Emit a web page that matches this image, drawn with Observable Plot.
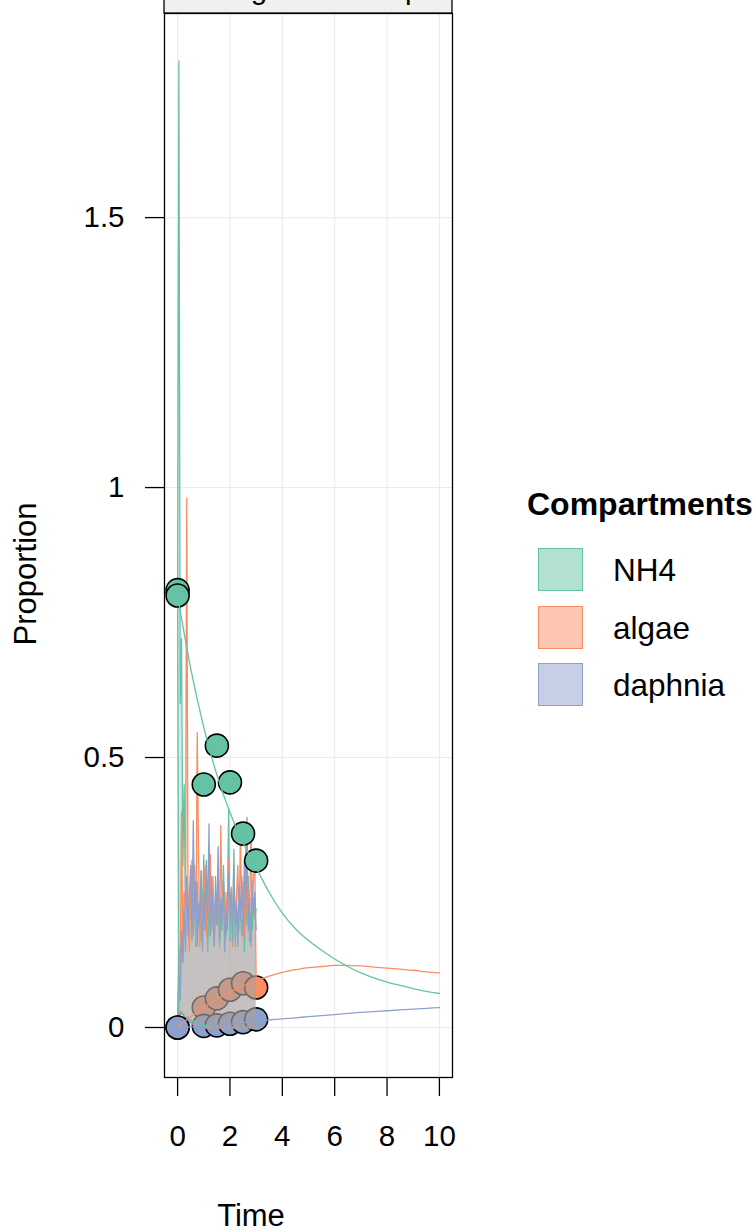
<!DOCTYPE html>
<html><head><meta charset="utf-8">
<script src="https://cdn.jsdelivr.net/npm/d3@7"></script>
<script src="https://cdn.jsdelivr.net/npm/@observablehq/plot@0.6"></script>
<style>
body{margin:0;background:#fff;}
#wrap{position:relative;width:756px;height:1232px;overflow:hidden;font-family:"Liberation Sans",Arial,Helvetica,sans-serif;}
.lg{position:absolute;line-height:1;white-space:nowrap;color:#000;}
.key{position:absolute;box-sizing:border-box;width:45px;height:43px;border:1.6px solid;}
</style></head><body><div id="wrap"></div>
<script>
// ---- data ----
const compartments = ["NH4", "algae", "daphnia"];
const palette = ["#66c2a5", "#fc8d62", "#8da0cb"];
const xTicks = [0, 2, 4, 6, 8, 10];
const yTicks = [0, 0.5, 1, 1.5];
const yTickLabels = ["0", "0.5", "1", "1.5"];

// observed proportions
const obsTimeNH4 = [0, 0, 1, 1.5, 2, 2.5, 3];
const obsNH4 = [0.81, 0.80, 0.45, 0.522, 0.454, 0.359, 0.309];
const obsTime = [0, 1, 1.5, 2, 2.5, 3];
const obsAlgae = [0, 0.037, 0.054, 0.070, 0.082, 0.074];
const obsDaphnia = [0, 0.003, 0.004, 0.007, 0.010, 0.015];

// model trajectories
const modelTime = [0,0.5,1,1.5,2,2.5,3,3.5,4,4.5,5,5.5,6,6.5,7,7.5,8,8.5,9,9.5,10];
const modelNH4 = [0.80,0.665,0.556,0.468,0.398,0.342,0.296,0.250,0.212,0.183,0.161,0.143,0.127,0.113,0.101,0.092,0.084,0.078,0.072,0.067,0.063];
const modelAlgae = [0,0.020,0.037,0.052,0.065,0.077,0.086,0.095,0.102,0.107,0.111,0.113,0.115,0.115,0.114,0.112,0.110,0.108,0.106,0.103,0.101];
const modelDaphnia = [0,0.001,0.002,0.004,0.006,0.009,0.012,0.014,0.016,0.018,0.020,0.022,0.024,0.026,0.028,0.0295,0.031,0.0325,0.034,0.0355,0.037];

// simulated envelopes, t = 0 .. 3 every 0.05
const simTime = d3.range(61).map(i => +(i * 0.05).toFixed(2));
const simUpperNH4 = [
 0.80,1.79,0.60,0.72,0.30,0.45,0.22,0.28,0.18,0.26,
 0.20,0.31,0.17,0.24,0.15,0.27,0.19,0.23,0.16,0.21,
 0.32,0.18,0.25,0.14,0.22,0.17,0.28,0.20,0.16,0.24,
 0.19,0.26,0.15,0.21,0.18,0.30,0.22,0.17,0.20,0.405,
 0.16,0.24,0.19,0.33,0.15,0.22,0.18,0.27,0.21,0.17,
 0.25,0.14,0.23,0.19,0.28,0.16,0.21,0.18,0.24,0.20,
 0.22];
const simUpperAlgae = [
 0.00,0.15,0.08,0.40,0.12,0.25,0.22,0.98,0.20,0.14,
 0.26,0.18,0.22,0.30,0.16,0.546,0.33,0.15,0.29,0.19,
 0.25,0.30,0.17,0.27,0.21,0.32,0.18,0.28,0.15,0.24,
 0.20,0.29,0.17,0.374,0.22,0.27,0.16,0.25,0.19,0.31,
 0.21,0.26,0.15,0.28,0.20,0.24,0.30,0.18,0.355,0.22,
 0.27,0.17,0.33,0.21,0.26,0.19,0.372,0.23,0.28,0.30,
 0.09];
const simUpperDaphnia = [
 0.00,0.10,0.05,0.18,0.12,0.22,0.14,0.28,0.17,0.24,
 0.30,0.16,0.383,0.20,0.27,0.15,0.23,0.19,0.29,0.14,
 0.25,0.18,0.31,0.20,0.377,0.17,0.26,0.21,0.15,0.28,
 0.19,0.335,0.16,0.24,0.20,0.27,0.14,0.22,0.18,0.29,
 0.21,0.25,0.16,0.30,0.19,0.23,0.15,0.26,0.20,0.28,
 0.17,0.31,0.22,0.389,0.18,0.24,0.15,0.27,0.21,0.25,
 0.18];
const simLowerNH4 = [
 0.80,0.030,0.020,0.030,0.025,0.020,0.020,0.015,0.020,0.010,
 0.015,0.010,0.012,0.008,0.010,0.006,0.008,0.005,0.007,0.004,
 0.006,0.003,0.005,0.002,0.004,0.001,0.003,0.000,0.002,-0.001,
 0.001,-0.002,0.000,-0.001,0.002,-0.003,0.000,0.001,-0.002,0.000,
 -0.001,0.001,-0.003,0.000,0.002,-0.001,0.000,-0.002,0.001,0.000,
 -0.001,0.002,-0.003,0.000,0.001,-0.002,0.000,-0.001,0.001,0.000,
 0.000];
const simLowerAlgae = [
 0.000,0.025,0.030,0.028,0.025,0.022,0.020,0.018,0.015,0.012,
 0.010,0.008,0.006,0.005,0.004,0.003,0.002,0.001,0.002,0.000,
 0.001,-0.001,0.000,0.001,-0.002,0.000,0.001,-0.001,0.000,-0.002,
 0.001,0.000,-0.001,0.002,0.000,-0.003,0.000,0.001,-0.001,0.000,
 0.002,-0.002,0.000,0.001,-0.001,0.000,-0.003,0.001,0.000,-0.001,
 0.002,0.000,-0.002,0.001,0.000,-0.001,0.000,0.001,-0.002,0.000,
 0.000];
const simLowerDaphnia = [
 0.000,0.022,0.028,0.026,0.024,0.020,0.018,0.016,0.014,0.011,
 0.009,0.007,0.005,0.004,0.003,0.002,0.001,0.000,0.001,-0.001,
 0.000,0.001,-0.002,0.000,0.001,-0.001,0.000,0.002,-0.001,0.000,
 -0.002,0.001,0.000,-0.001,0.000,0.002,-0.003,0.000,0.001,-0.001,
 0.000,-0.002,0.001,0.000,-0.001,0.002,0.000,-0.001,0.000,0.001,
 -0.002,0.000,0.001,-0.001,0.000,0.002,-0.001,0.000,-0.002,0.000,
 0.000];

// ---- tables built from the arrays ----
const simUpper = [simUpperNH4, simUpperAlgae, simUpperDaphnia];
const simLower = [simLowerNH4, simLowerAlgae, simLowerDaphnia];
const ribbon = compartments.flatMap((c, k) =>
  simTime.map((t, i) => ({comp: c, t, lo: simLower[k][i], hi: simUpper[k][i]})).filter(d => d.hi != null && d.lo != null));
const modelVals = [modelNH4, modelAlgae, modelDaphnia];
const model = compartments.flatMap((c, k) => modelTime.map((t, i) => ({comp: c, t, v: modelVals[k][i]})));
const obs = [
  ...obsTimeNH4.map((t, i) => ({comp: "NH4", t, v: obsNH4[i]})),
  ...obsTime.map((t, i) => ({comp: "algae", t, v: obsAlgae[i]})),
  ...obsTime.map((t, i) => ({comp: "daphnia", t, v: obsDaphnia[i]}))
];
// points lying inside the simulated envelopes are seen through its shading
const obsUnder = obs.filter(d => d.comp !== "NH4" && d.t > 0);
const obsOver = obs.filter(d => d.comp === "NH4" || d.t === 0);

const font = '"Liberation Sans", Arial, Helvetica, sans-serif';
const chart = Plot.plot({
  width: 756, height: 1232,
  marginLeft: 164, marginRight: 304, marginTop: 13, marginBottom: 155,
  x: {domain: [-0.5, 10.5]},
  y: {domain: [-0.0926, 1.878]},
  color: {domain: compartments, range: palette},
  style: {fontFamily: font, fontSize: "29.5px", color: "black", background: "white", overflow: "visible"},
  marks: [
    Plot.gridX({ticks: xTicks, stroke: "#ebebeb", strokeOpacity: 1, strokeWidth: 1.1}),
    Plot.gridY({ticks: yTicks, stroke: "#ebebeb", strokeOpacity: 1, strokeWidth: 1.1}),
    Plot.dot(obsUnder, {x: "t", y: "v", fill: "comp", stroke: "black", strokeWidth: 1.6, r: 11.5}),
    Plot.areaY(ribbon, {x: "t", y1: "lo", y2: "hi", z: "comp", fill: "comp", fillOpacity: 0.3}),
    Plot.lineY(ribbon, {x: "t", y: "hi", z: "comp", stroke: "comp", strokeWidth: 1.3}),
    Plot.lineY(ribbon, {x: "t", y: "lo", z: "comp", stroke: "comp", strokeWidth: 1.3}),
    Plot.dot(obsOver, {x: "t", y: "v", fill: "comp", stroke: "black", strokeWidth: 1.6, r: 11.5}),
    Plot.lineY(model, {x: "t", y: "v", z: "comp", stroke: "comp", strokeWidth: 1.3, curve: "monotone-x"}),
    Plot.frame({stroke: "black", strokeWidth: 1.3}),
    Plot.axisX({ticks: xTicks, tickSize: 19, tickPadding: 29, label: null, fontSize: 29.5, strokeWidth: 1.3}),
    Plot.axisY({ticks: yTicks, tickFormat: d => yTickLabels[yTicks.indexOf(d)], tickSize: 19, tickPadding: 21, label: null, fontSize: 29.5, strokeWidth: 1.3})
  ]
});

// strip, axis titles (text added to the plot's svg)
const svg = d3.select(chart);
svg.append("rect").attr("x", 164).attr("y", -3).attr("width", 288).attr("height", 16)
  .attr("fill", "#f0f0f0").attr("stroke", "black").attr("stroke-width", 1.3);
svg.append("text").attr("x", 308).attr("y", -1).attr("text-anchor", "middle")
  .attr("font-size", 29.5).attr("font-family", font).text("Tracing model output");
svg.append("text").attr("x", 251).attr("y", 1226).attr("text-anchor", "middle")
  .attr("font-size", 31).attr("font-family", font).text("Time");
svg.append("text").attr("transform", "translate(36,574) rotate(-90)").attr("text-anchor", "middle")
  .attr("font-size", 31).attr("font-family", font).text("Proportion");

const wrap = document.getElementById("wrap");
wrap.appendChild(chart);

// legend
const lg = d3.select(wrap);
lg.append("div").attr("class", "lg").style("left", "527px").style("top", (515 - 0.8465 * 32) + "px")
  .style("font-size", "32px").style("font-weight", "bold").text("Compartments");
compartments.forEach((c, i) => {
  const f = d3.color(palette[i]).copy({opacity: 0.5});
  const top = 548 + i * 57.5;
  lg.append("div").attr("class", "key").style("left", "538px").style("top", top + "px")
    .style("border-color", palette[i]).style("background", f.formatRgb());
  lg.append("div").attr("class", "lg").style("left", "613px").style("top", (top + 34 - 0.8465 * 31.5) + "px")
    .style("font-size", "31.5px").text(c);
});
</script></body></html>
